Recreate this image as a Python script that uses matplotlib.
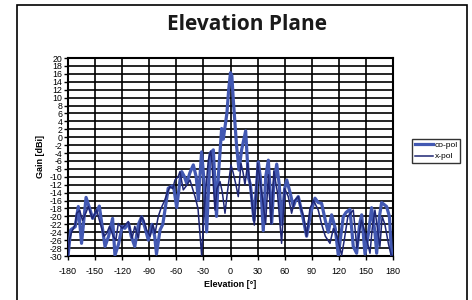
import matplotlib
matplotlib.use("Agg")
import matplotlib.pyplot as plt
from matplotlib.patches import Rectangle

plt.rcParams["font.family"] = ["Liberation Sans", "DejaVu Sans"]
plt.rcParams["axes.unicode_minus"] = False

# co-pol
co_ang = [-180, -177, -172, -168.6, -165, -160, -156, -152.7, -149, -145.3,
          -139, -135, -130.6, -128, -124, -120, -117, -113, -110, -106,
          -102, -98.4, -95, -91, -87, -84, -82, -78, -75, -72.6,
          -69, -65, -63, -59.6, -56, -54, -51, -48.6, -45, -41.2,
          -38, -35.6, -32, -29, -26.4, -22.7, -19, -15.5, -13.5, -9.8,
          -8, -4, -2, 0, 1.5, 3.1, 6.8, 9.4, 12.3, 16.8,
          19.7, 22, 26, 30.8, 33, 36.3, 39, 41.9, 43.5, 45.6,
          48, 51.2, 54, 56.7, 60, 62.3, 66, 69.6, 72, 75.1,
          80, 84.3, 89, 93.6, 97, 100.9, 105, 108.3, 112, 116,
          119.4, 124.9, 128, 132.3, 136, 139.7, 143, 145.3, 149, 153,
          156.3, 160, 161.9, 165, 167.4, 172.9, 176, 178.5, 180]
co_gain = [-30, -23.4, -22.6, -17.5, -26.8, -15.2, -18, -20.5, -19, -17.4,
           -27.6, -25, -20.5, -29.8, -27, -22.5, -23, -21.7, -25, -27.6,
           -22, -20.1, -22.6, -26, -22, -25, -29.5, -23.4, -22, -18.4,
           -12.9, -12.3, -12.5, -17.8, -11, -8.7, -10, -11.6, -9, -7.0,
           -10, -15.9, -3.7, -12, -23.9, -4.1, -3.2, -20, -10, 2.2,
           -0.5, 6, 12, 16.3, 15.5, 9.4, -2.4, -8.3, -3.2, 1.6,
           -10, -12, -21, -6.2, -10, -23.6, -10, -5.8, -12, -21.7,
           -12, -6.8, -12, -22, -13, -10.8, -14, -17.5, -16, -15,
           -20, -25, -19, -15.4, -16.5, -16.7, -21, -24, -19.6, -23,
           -29.8, -20.1, -19, -18.2, -27.6, -29.3, -22, -19.6, -29.5, -24,
           -17.8, -24, -29.3, -20, -16.5, -17.5, -20, -29.8, -30]

# x-pol
x_ang = [-180, -178.6, -176, -172, -170.4, -167, -164, -160, -157.5, -153,
         -148.3, -144, -140, -137.2, -134, -130, -127, -124.3, -120, -116,
         -113.2, -109, -106, -102, -99, -96, -92.9, -89, -86, -83.6,
         -80, -77, -73, -70, -67, -64, -61.5, -58, -56, -52.3,
         -48, -44.9, -42, -39.3, -36, -32, -30, -28.3, -24.6, -22,
         -20.9, -17.2, -15, -11.6, -9, -6.1, -3.5, 0.5, 3, 6,
         8.6, 11.6, 14, 16, 19, 21.5, 26.4, 30, 34, 38.9,
         42, 45, 48, 52, 56.6, 60, 64, 67.7, 71, 75.1,
         78, 81, 84.3, 88, 92, 97.2, 101, 105, 110.2, 114,
         118, 123.1, 126, 130, 136, 140, 145, 149, 154.5, 157,
         160, 165.5, 168, 171, 175, 178, 180]
x_gain = [-30, -26, -24, -22, -19.2, -18.5, -21, -19, -17.5, -20.5,
          -18.4, -22, -25, -24.3, -22.5, -25, -26, -21.8, -23, -22,
          -21.3, -25.5, -22.5, -25.5, -20, -21, -23.4, -25, -22, -24.3,
          -20, -18, -16, -14, -12.5, -13, -10.8, -10, -8.7, -13.3,
          -12, -10.8, -13, -15, -18, -29.8, -22, -15.9, -5.8, -3.5,
          -5.3, -18.4, -13, -11.2, -14, -19.2, -14, -7, -9, -12,
          -15, -6.6, -9, -12, -6.6, -11.5, -22.2, -6.6, -13, -21.8,
          -9.5, -22, -8.5, -14, -26.8, -13, -15, -19.2, -16, -15,
          -18, -20, -25, -18, -16, -18.4, -22, -25, -26.8, -23,
          -25, -29.8, -26, -20, -18.4, -28, -21, -24, -29.3, -23,
          -18.4, -27.6, -20, -22, -27, -29.8, -30]

x_ticks = list(range(-180, 181, 30))
y_ticks = list(range(-30, 21, 2))

fig = plt.figure(figsize=(4.72, 3.0), dpi=100)
ax = fig.add_axes([68 / 472, 1 - 256 / 300, 325 / 472, 198 / 300])

ax.plot(co_ang, co_gain, color="#4258b2", lw=2.3, label="co-pol", zorder=3)
ax.plot(x_ang, x_gain, color="#1e2674", lw=1.1, label="x-pol", zorder=4)

ax.set_xlim(-180, 180)
ax.set_ylim(-30, 20)
ax.set_xticks(x_ticks)
ax.set_yticks(y_ticks)
ax.tick_params(axis="x", labelsize=6.5, length=3, width=1, pad=5)
ax.tick_params(axis="y", labelsize=6.3, length=3, width=1, pad=1)
ax.grid(True, color="black", lw=1.2)
ax.set_axisbelow(True)
for s in ax.spines.values():
    s.set_linewidth(1.5)

ax.set_xlabel("Elevation [°]", fontsize=6.5, fontweight="bold", labelpad=3)
ax.set_ylabel("Gain [dBi]", fontsize=6.5, fontweight="bold", labelpad=3)

fig.text(0.524, 0.918, "Elevation Plane", ha="center", va="center",
         fontsize=15, fontweight="bold", color="#1a1a1a",
         family=["Open Sans", "DejaVu Sans"])

leg = fig.legend(loc="upper left", bbox_to_anchor=(412 / 472, 1 - 139 / 300),
                 fontsize=6, frameon=True, fancybox=False, handlelength=2.2,
                 borderpad=0.3, labelspacing=0.4, handletextpad=0.2,
                 borderaxespad=0)
leg.get_frame().set_edgecolor("black")
leg.get_frame().set_linewidth(1.0)

# outer chart frame
fig.patches.append(Rectangle((17 / 472, -0.01), 450 / 472, 1 - 5 / 300 + 0.01,
                             transform=fig.transFigure, fill=False,
                             edgecolor="black", lw=1.2))

fig.savefig("out.png", dpi=100)
